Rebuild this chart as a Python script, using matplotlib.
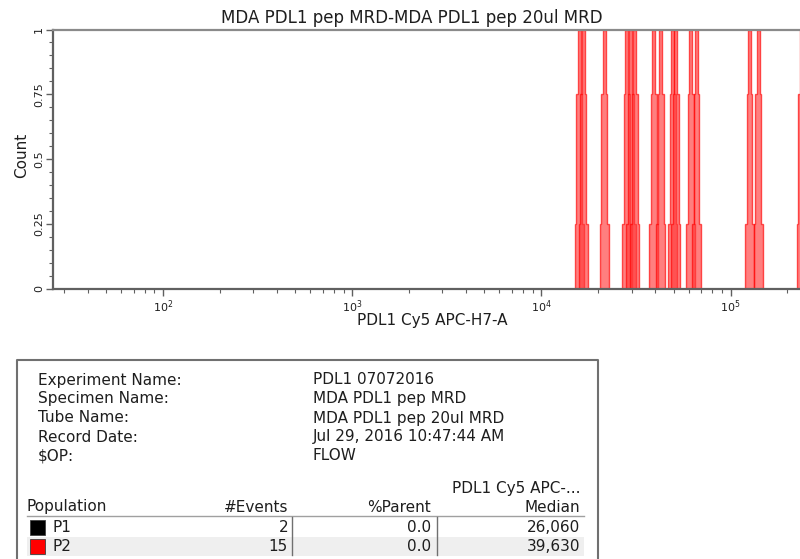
import numpy as np
import matplotlib
matplotlib.use("Agg")
import matplotlib.pyplot as plt
from matplotlib.patches import Rectangle
from matplotlib.ticker import LogLocator, MultipleLocator, FixedLocator

plt.rcParams['font.family'] = ['DejaVu Sans']

# events of P2 (PDL1 Cy5 APC-H7-A values)
events = [15850, 16640, 21460, 28360, 29770, 31240, 39330, 42810,
          49520, 51350, 61590, 66230, 125900, 140300, 236400]

title = "MDA PDL1 pep MRD-MDA PDL1 pep 20ul MRD"
xlab = "PDL1 Cy5 APC-H7-A"
ylab = "Count"

info_keys = ["Experiment Name:", "Specimen Name:", "Tube Name:", "Record Date:", "$OP:"]
info_vals = ["PDL1 07072016", "MDA PDL1 pep MRD", "MDA PDL1 pep 20ul MRD",
             "Jul 29, 2016 10:47:44 AM", "FLOW"]

pops = ["P1", "P2"]
pop_colors = ["#000000", "#ff0000"]
n_events = ["2", "15"]
pct_parent = ["0.0", "0.0"]
medians = ["26,060", "39,630"]

W, H = 800, 559
fig = plt.figure(figsize=(W / 100, H / 100), dpi=100)
fig.patch.set_facecolor("white")

# histogram axes
l, r, t, b = 53, 800, 29.5, 289
ax = fig.add_axes([l / W, 1 - b / H, (r - l) / W, (b - t) / H])
ax.set_xscale("log")
ax.set_xlim(26.2, 233000)
ax.set_ylim(0, 1)

# each event drawn as a stepped spike (widths in decades)
levels = [0.25, 0.75, 1.0]
halfw = [0.024, 0.015, 0.008]
for v in events:
    xs, ys = [], []
    prev = 0
    for lv, hw in zip(levels, halfw):
        xs += [v * 10 ** -hw, v * 10 ** -hw]
        ys += [prev, lv]
        prev = lv
    rx = [v * v / x for x in xs[::-1]]
    ry = ys[::-1]
    ax.fill(xs + rx, ys + ry, facecolor="#ff3a3a", alpha=0.65,
            edgecolor="#ff0000", linewidth=1.0)

for s in ["left", "bottom"]:
    ax.spines[s].set_color("#606060")
    ax.spines[s].set_linewidth(1.6)
ax.spines["top"].set_color("#8a8a8a")
ax.spines["top"].set_linewidth(1.6)
ax.spines["right"].set_visible(False)

ax.xaxis.set_major_locator(FixedLocator([1e2, 1e3, 1e4, 1e5]))
ax.xaxis.set_minor_locator(LogLocator(base=10, subs=np.arange(2, 10), numticks=20))
ax.set_xticklabels([r"$10^2$", r"$10^3$", r"$10^4$", r"$10^5$"])
ax.yaxis.set_major_locator(MultipleLocator(0.25))
ax.yaxis.set_minor_locator(MultipleLocator(0.05))
ax.set_yticks([0, 0.25, 0.5, 0.75, 1])
ax.set_yticklabels(["0", "0.25", "0.5", "0.75", "1"], rotation=90, va="center")
ax.tick_params(which="both", direction="out", color="#606060", labelsize=8,
               labelcolor="#202020")
ax.tick_params(which="major", length=5, width=1, pad=1.5)
ax.tick_params(which="minor", length=3, width=0.8)

# overlay in pixel coordinates for texts and table
ov = fig.add_axes([0, 0, 1, 1])
ov.set_xlim(0, W)
ov.set_ylim(H, 0)
ov.axis("off")
ov.patch.set_alpha(0)

txt = "#1e1e1e"
ov.text(412, 18, title, ha="center", va="center", fontsize=12, color=txt)
ov.text(432, 320, xlab, ha="center", va="center", fontsize=11, color=txt)
ov.text(22, 155, ylab, ha="center", va="center", rotation=90, fontsize=11, color=txt)

# info box
fs = 11
ov.plot([17, 17, 598, 598], [560, 360, 360, 560], color="#707070", lw=1.5)
for i, (k, v) in enumerate(zip(info_keys, info_vals)):
    y = 380 + i * 19
    ov.text(38, y, k, ha="left", va="center", fontsize=fs, color=txt)
    ov.text(313, y, v, ha="left", va="center", fontsize=fs, color=txt)

ov.text(580, 489, "PDL1 Cy5 APC-...", ha="right", va="center", fontsize=fs, color=txt)
ov.text(27, 507, "Population", ha="left", va="center", fontsize=fs, color=txt)
ov.text(288, 507, "#Events", ha="right", va="center", fontsize=fs, color=txt)
ov.text(431, 507, "%Parent", ha="right", va="center", fontsize=fs, color=txt)
ov.text(580, 507, "Median", ha="right", va="center", fontsize=fs, color=txt)
ov.plot([27, 584], [516, 516], color="#a0a0a0", lw=1)

for i, p in enumerate(pops):
    y = 527 + i * 19.5
    if i % 2 == 1:
        ov.add_patch(Rectangle((27, y - 9.5), 557, 19, facecolor="#efefef",
                               edgecolor="none", zorder=0))
    ov.add_patch(Rectangle((30, y - 7.5), 15, 15, facecolor=pop_colors[i],
                           edgecolor="#404040", lw=0.6))
    ov.text(53, y, p, ha="left", va="center", fontsize=fs, color=txt)
    ov.text(288, y, n_events[i], ha="right", va="center", fontsize=fs, color=txt)
    ov.text(431, y, pct_parent[i], ha="right", va="center", fontsize=fs, color=txt)
    ov.text(580, y, medians[i], ha="right", va="center", fontsize=fs, color=txt)
ov.plot([292, 292], [517, 555], color="#707070", lw=1)
ov.plot([437, 437], [517, 555], color="#707070", lw=1)

fig.savefig("out.png", dpi=100, facecolor="white")
